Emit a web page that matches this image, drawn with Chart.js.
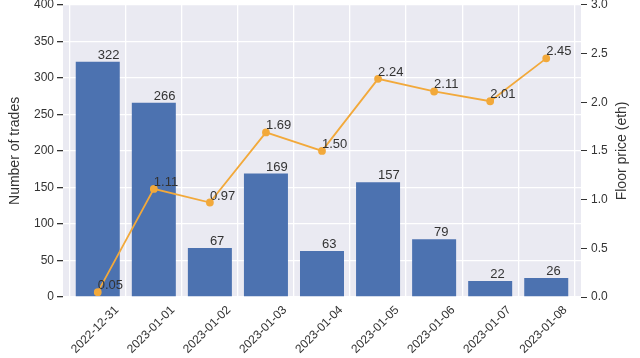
<!DOCTYPE html>
<html>
<head>
<meta charset="utf-8">
<script src="https://cdn.jsdelivr.net/npm/chart.js@4"></script>
<style>
  html, body { margin: 0; padding: 0; background: #fff; }
  #wrap { width: 640px; height: 358px; }
</style>
</head>
<body>
<div id="wrap"><canvas id="chart"></canvas></div>
<script>
const dates = ['2022-12-31', '2023-01-01', '2023-01-02', '2023-01-03', '2023-01-04',
    '2023-01-05', '2023-01-06', '2023-01-07', '2023-01-08'];
const trades = [322, 266, 67, 169, 63, 157, 79, 22, 26];
const floorPrice = [0.05, 1.11, 0.97, 1.69, 1.50, 2.24, 2.11, 2.01, 2.45];

const font = 'Arial, "Liberation Sans", sans-serif';
const textColor = '#333333';

// grey panel behind the plot, seaborn darkgrid style
const panelBg = {
    id: 'panelBg',
    beforeDraw(chart) {
        const { ctx, chartArea: a } = chart;
        ctx.save();
        ctx.fillStyle = '#eaeaf2';
        ctx.fillRect(a.left, a.top, a.right - a.left, a.bottom - a.top);
        ctx.restore();
    }
};

// value labels: left aligned at the mark, sitting just above it
const valueLabels = {
    id: 'valueLabels',
    afterDatasetsDraw(chart) {
        const ctx = chart.ctx;
        ctx.save();
        ctx.font = '13px ' + font;
        ctx.fillStyle = textColor;
        ctx.textAlign = 'left';
        ctx.textBaseline = 'alphabetic';
        chart.data.datasets.forEach((ds, i) => {
            const meta = chart.getDatasetMeta(i);
            meta.data.forEach((el, j) => {
                const v = ds.data[j].y;
                const txt = ds.type === 'line' ? v.toFixed(2) : String(v);
                ctx.fillText(txt, el.x, el.y - 3);
            });
        });
        ctx.restore();
    }
};

// right axis title reads bottom-to-top like the left one
const rightTitle = {
    id: 'rightTitle',
    afterDraw(chart) {
        const { ctx, chartArea: a } = chart;
        ctx.save();
        ctx.translate(622, (a.top + a.bottom) / 2);
        ctx.rotate(-Math.PI / 2);
        ctx.font = '14px ' + font;
        ctx.fillStyle = textColor;
        ctx.textAlign = 'center';
        ctx.textBaseline = 'middle';
        ctx.fillText('Floor price (eth)', 0, 0);
        ctx.restore();
    }
};

const noPad = axis => { axis.paddingTop = 0; axis.paddingBottom = 0; };

new Chart(document.getElementById('chart'), {
    data: {
        datasets: [
            {
                type: 'line',
                label: 'Floor price',
                data: floorPrice.map((v, i) => ({ x: i, y: v })),
                yAxisID: 'y1',
                borderColor: '#f2a93b',
                backgroundColor: '#f2a93b',
                borderWidth: 1.8,
                pointRadius: 3,
                pointHoverRadius: 3,
                order: 1
            },
            {
                type: 'bar',
                label: 'Number of trades',
                data: trades.map((v, i) => ({ x: i, y: v })),
                yAxisID: 'y',
                backgroundColor: '#4c72b0',
                categoryPercentage: 0.785,
                barPercentage: 1,
                order: 2
            }
        ]
    },
    options: {
        responsive: true,
        maintainAspectRatio: false,
        animation: false,
        layout: { padding: { top: 3, left: 0, right: 0, bottom: 0 } },
        plugins: {
            legend: { display: false },
            tooltip: { enabled: false }
        },
        scales: {
            x: {
                type: 'linear',
                offset: false,
                min: -0.62,
                max: 8.62,
                afterBuildTicks: axis => { axis.ticks = dates.map((_, i) => ({ value: i })); },
                afterFit: axis => { axis.height = 61; axis.paddingLeft = 0; axis.paddingRight = 0; },
                grid: { color: '#ffffff', lineWidth: 1.3, drawTicks: false },
                border: { display: false },
                ticks: {
                    callback: v => dates[v],
                    minRotation: 45,
                    maxRotation: 45,
                    labelOffset: 19,
                    padding: 6,
                    color: textColor,
                    font: { family: font, size: 12 }
                }
            },
            y: {
                position: 'left',
                min: 0,
                max: 400,
                afterFit: axis => { axis.width = 63; noPad(axis); },
                grid: { color: '#ffffff', lineWidth: 1.3, tickColor: '#333333', tickLength: 6 },
                border: { display: false },
                ticks: {
                    stepSize: 50,
                    padding: 3,
                    color: textColor,
                    font: { family: font, size: 12 }
                },
                title: {
                    display: true,
                    text: 'Number of trades',
                    color: textColor,
                    font: { family: font, size: 14 },
                    padding: { top: 7, bottom: 0 }
                }
            },
            y1: {
                position: 'right',
                min: 0,
                max: 3,
                afterFit: axis => { axis.width = 59; noPad(axis); },
                grid: { drawOnChartArea: false, tickColor: '#333333', tickLength: 6 },
                border: { display: false },
                ticks: {
                    stepSize: 0.5,
                    padding: 4,
                    callback: v => v.toFixed(1),
                    color: textColor,
                    font: { family: font, size: 12 }
                }
            }
        }
    },
    plugins: [panelBg, valueLabels, rightTitle]
});
</script>
</body>
</html>
